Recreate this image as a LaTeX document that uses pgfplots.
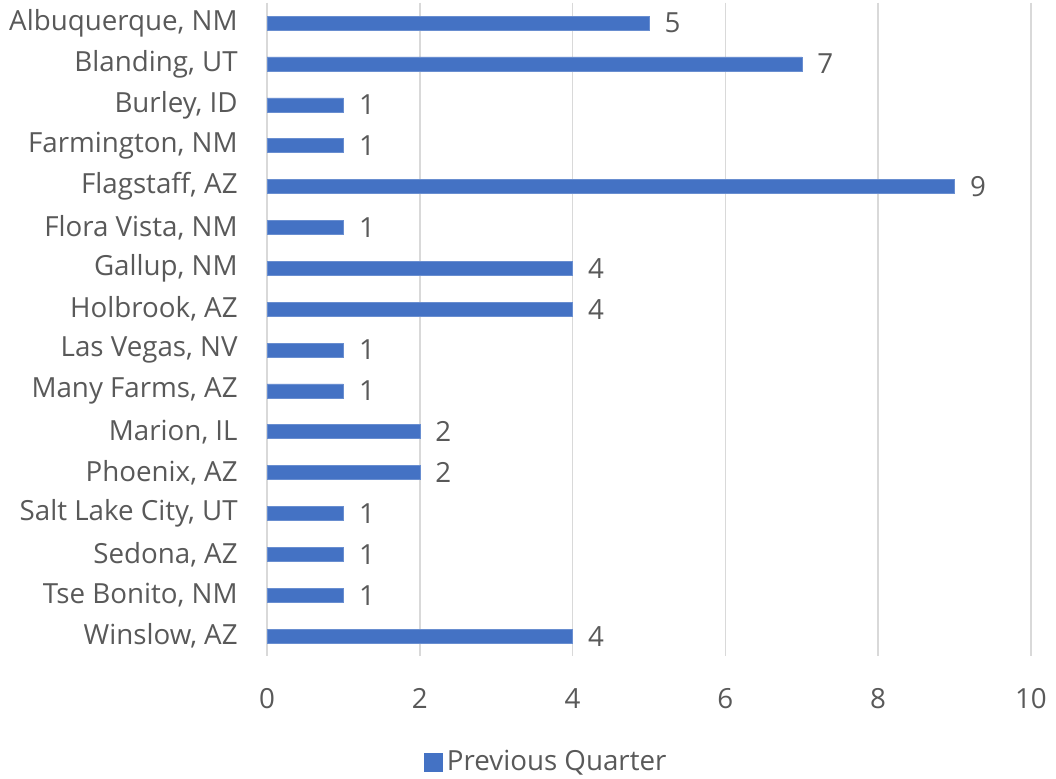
\documentclass[border=0pt]{standalone}
\usepackage{pgfplots}
\pgfplotsset{compat=1.18}
\usepackage{fontspec}
\setmainfont{Open Sans}
\definecolor{barblue}{HTML}{4472C4}
\definecolor{txtgray}{HTML}{595959}
\definecolor{gridgray}{HTML}{D9D9D9}
\newcommand{\lf}{\fontsize{20.8pt}{25pt}\selectfont}
\begin{document}
\lf
\begin{tikzpicture}
\begin{axis}[
  scale only axis,
  width=573pt, height=490.5pt,
  xmin=0, xmax=10, ymin=-0.5, ymax=15.5,
  y dir=reverse,
  xbar, bar width=10.5pt,
  xtick={0,2,4,6,8,10},
  ytick={0,...,15},
  yticklabels={Albuquerque{,} NM, Blanding{,} UT, Burley{,} ID, Farmington{,} NM, Flagstaff{,} AZ, Flora Vista{,} NM, Gallup{,} NM, Holbrook{,} AZ, Las Vegas{,} NV, Many Farms{,} AZ, Marion{,} IL, Phoenix{,} AZ, Salt Lake City{,} UT, Sedona{,} AZ, Tse Bonito{,} NM, Winslow{,} AZ},
  axis line style={draw=none},
  major tick length=0pt,
  xmajorgrids, grid style={gridgray, line width=1pt},
  /pgf/number format/assume math mode=true,
  ticklabel style={font=\lf, text=txtgray},
  xticklabel style={yshift=-17pt},
  yticklabel style={xshift=-15pt},
  nodes near coords,
  nodes near coords style={font=\lf, text=txtgray, xshift=4.5pt},
  point meta=x,
  legend style={at={(0.367,-0.162)}, anchor=center, draw=none, font=\lf, text=txtgray, inner sep=0pt, nodes={inner sep=3pt}},
  legend image code/.code={\fill[barblue] (0pt,-6.75pt) rectangle (13.5pt,6.75pt);},
  clip=false,
]
\addplot[fill=barblue, draw=barblue!80!white] coordinates {
(5,0) (7,1) (1,2) (1,3) (9,4) (1,5) (4,6) (4,7) (1,8) (1,9) (2,10) (2,11) (1,12) (1,13) (1,14) (4,15)};
\addlegendentry{Previous Quarter}
\end{axis}
\end{tikzpicture}
\end{document}
